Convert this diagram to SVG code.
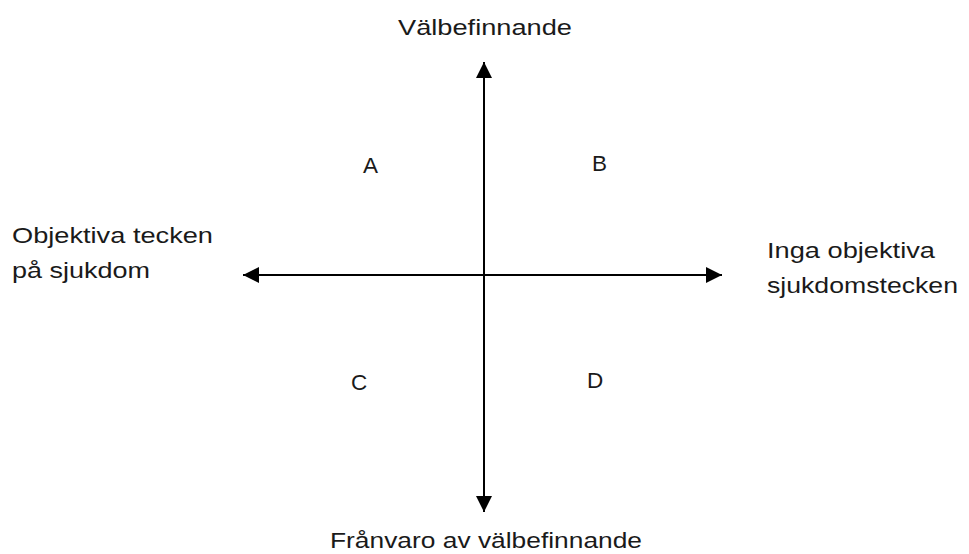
<svg xmlns="http://www.w3.org/2000/svg" width="969" height="554" viewBox="0 0 969 554">
<style>
text{font-family:"Liberation Sans","Open Sans",sans-serif;font-size:22.5px;fill:#1a1a1a}
.ax{stroke:#000;stroke-width:2;fill:none}
</style>
<defs>
<marker id="ah" viewBox="0 0 16 16" refX="16" refY="8" markerWidth="16" markerHeight="16" markerUnits="userSpaceOnUse" orient="auto">
<path d="M0,0 L16,8 L0,16 Z" fill="#000"/>
</marker>
</defs>
<rect width="969" height="554" fill="#fff"/>
<g id="connectors">
<line class="ax" x1="484" y1="275" x2="484" y2="62" marker-end="url(#ah)"/>
<line class="ax" x1="484" y1="275" x2="484" y2="512" marker-end="url(#ah)"/>
<line class="ax" x1="484" y1="275" x2="243" y2="275" marker-end="url(#ah)"/>
<line class="ax" x1="484" y1="275" x2="722" y2="275" marker-end="url(#ah)"/>
</g>
<g id="top"><text x="398" y="35" textLength="174" lengthAdjust="spacingAndGlyphs">Välbefinnande</text></g>
<g id="bottom"><text x="330" y="548" textLength="312" lengthAdjust="spacingAndGlyphs">Frånvaro av välbefinnande</text></g>
<g id="left"><text x="12" y="243" textLength="201" lengthAdjust="spacingAndGlyphs">Objektiva tecken</text><text x="12" y="278" textLength="138" lengthAdjust="spacingAndGlyphs">på sjukdom</text></g>
<g id="right"><text x="767" y="258" textLength="168" lengthAdjust="spacingAndGlyphs">Inga objektiva</text><text x="767" y="293" textLength="191" lengthAdjust="spacingAndGlyphs">sjukdomstecken</text></g>
<g id="A"><text x="363" y="173">A</text></g>
<g id="B"><text x="592" y="171">B</text></g>
<g id="C"><text x="351" y="390">C</text></g>
<g id="D"><text x="587" y="388">D</text></g>
</svg>
